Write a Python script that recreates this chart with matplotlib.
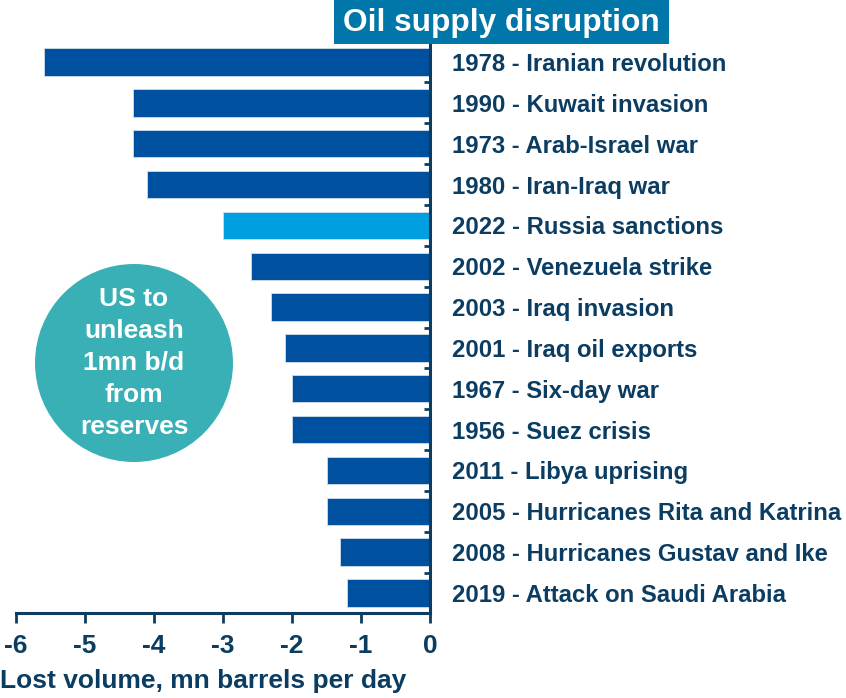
import matplotlib
matplotlib.use("Agg")
import matplotlib.pyplot as plt
from matplotlib.patches import Circle, Rectangle

plt.rcParams['font.family'] = ['Liberation Sans', 'DejaVu Sans']
plt.rcParams['font.weight'] = 'bold'

# data: lost volume (mn b/d), top to bottom
events = ["1978 - Iranian revolution", "1990 - Kuwait invasion", "1973 - Arab-Israel war",
          "1980 - Iran-Iraq war", "2022 - Russia sanctions", "2002 - Venezuela strike",
          "2003 - Iraq invasion", "2001 - Iraq oil exports", "1967 - Six-day war",
          "1956 - Suez crisis", "2011 - Libya uprising", "2005 - Hurricanes Rita and Katrina",
          "2008 - Hurricanes Gustav and Ike", "2019 - Attack on Saudi Arabia"]
lost = [-5.6, -4.3, -4.3, -4.1, -3.0, -2.6, -2.3, -2.1, -2.0, -2.0, -1.5, -1.5, -1.3, -1.2]
highlight = "2022 - Russia sanctions"
xticks = [-6, -5, -4, -3, -2, -1, 0]

navy = "#0B3D62"
dark_blue = "#0050A0"
light_blue = "#009FE0"

fig = plt.figure(figsize=(8.46, 6.98), dpi=100)
ax = fig.add_axes([16/846, 1 - 613.4/698, (430 - 16)/846, (613.4 - 41.6)/698])

colors = [light_blue if e == highlight else dark_blue for e in events]
ypos = list(range(len(events)))
ax.barh(ypos, lost, height=0.67, color=colors, edgecolor="#cfdcea", linewidth=0.6)

ax.set_xlim(-6, 0)
ax.set_ylim(len(events) - 0.5, -0.5)
ax.set_xticks(xticks)
ax.set_xticklabels([str(t) for t in xticks], fontsize=19, color=navy, fontweight='bold')
ax.set_yticks(ypos)
ax.set_yticklabels(events, fontsize=17.2, color=navy, fontweight='bold')
ax.set_yticks([y + 0.5 for y in ypos[:-1]], minor=True)
ax.tick_params(axis='y', which='major', left=False, right=False, labelleft=False,
               labelright=True, pad=12.5)
ax.tick_params(axis='y', which='minor', left=False, right=True, direction='in',
               length=4, width=2, color=navy)
ax.tick_params(axis='x', which='major', direction='out', length=7, width=2, color=navy, pad=8)

for s in ['top', 'left']:
    ax.spines[s].set_visible(False)
ax.spines['right'].set_color(navy)
ax.spines['right'].set_linewidth(2.2)
ax.spines['bottom'].set_color(navy)
ax.spines['bottom'].set_linewidth(2.2)
ax.spines['right'].set_zorder(5)

ax.set_xlabel("Lost volume, mn barrels per day", fontsize=19, color=navy, fontweight='bold',
              loc='left', labelpad=6)
ax.xaxis.set_label_coords(-16/414, -0.098)

# title box
fig.add_artist(Rectangle((334/846, 1 - 44/698), (669 - 334)/846, 44/698,
                         transform=fig.transFigure, facecolor="#0077A8", edgecolor='none'))
fig.text(501/846, 1 - 23/698, "Oil supply disruption", color='white', fontsize=22.8,
         fontweight='bold', ha='center', va='center')

# circle callout
fig.add_artist(Circle((1.34, 6.98 - 3.63), 0.99, transform=fig.dpi_scale_trans,
                      facecolor="#38B0B5", edgecolor='none', zorder=3))
fig.text(134/846, 1 - 363/698, "US to\nunleash\n1mn b/d\nfrom\nreserves", color='white',
         fontsize=19, fontweight='bold', ha='center', va='center', linespacing=1.42, zorder=4)

fig.savefig("out.png", dpi=100)
